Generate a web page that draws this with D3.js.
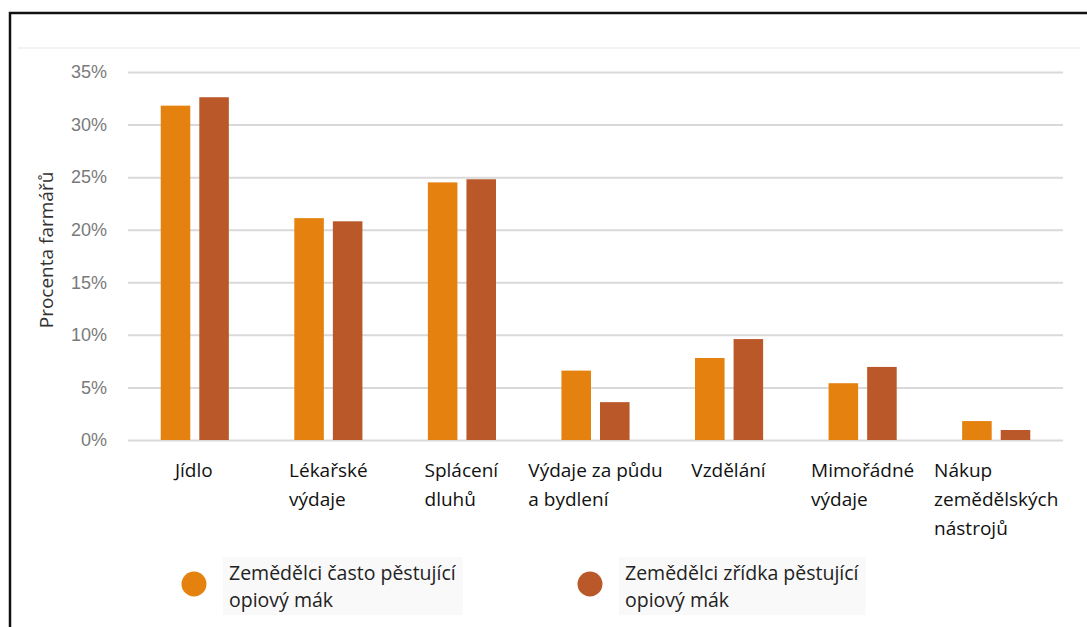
<!DOCTYPE html>
<html>
<head>
<meta charset="utf-8">
<script src="https://cdn.jsdelivr.net/npm/d3@7"></script>
<style>
  body { margin: 0; background: #fff; }
  svg { display: block; font-family: "Open Sans", "Noto Sans", sans-serif; }
</style>
</head>
<body>
<div id="chart-root"></div>
<script>
const categories = [
  ['Jídlo'],
  ['Lékařské', 'výdaje'],
  ['Splácení', 'dluhů'],
  ['Výdaje za půdu', 'a bydlení'],
  ['Vzdělání'],
  ['Mimořádné', 'výdaje'],
  ['Nákup', 'zemědělských', 'nástrojů']
];
const series_names = ['Zemědělci často pěstující opiový mák', 'Zemědělci zřídka pěstující opiový mák'];
const legend_lines = [['Zemědělci často pěstující', 'opiový mák'], ['Zemědělci zřídka pěstující', 'opiový mák']];
const often_values = [31.8, 21.1, 24.5, 6.6, 7.8, 5.4, 1.8];
const rarely_values = [32.6, 20.8, 24.8, 3.6, 9.6, 6.95, 0.95];
const y_ticks = [0, 5, 10, 15, 20, 25, 30, 35];
const colors = ['#e5820f', '#bb5829'];

const width = 1087, height = 627;
const margin = {left: 128, right: 1063, top: 72, bottom: 440};

const svg = d3.select('#chart-root').append('svg')
    .attr('width', width).attr('height', height);

// frame
svg.append('path')
    .attr('d', `M10,${height} L10,13 L${width},13`)
    .attr('fill', 'none').attr('stroke', '#111').attr('stroke-width', 2.5);
svg.append('line')
    .attr('x1', 18).attr('x2', 1080).attr('y1', 48).attr('y2', 48)
    .attr('stroke', '#f3f3f3').attr('stroke-width', 2);

const keys = categories.map(c => c.join(' '));
const x0 = d3.scaleBand().domain(keys).range([margin.left, margin.right])
    .paddingInner(0.49).paddingOuter(0.245);
const x1 = d3.scaleBand().domain(series_names).range([0, x0.bandwidth()]).paddingInner(0.234);
const y = d3.scaleLinear().domain([0, 35]).range([margin.bottom, margin.top]);

// gridlines
const y_axis = d3.axisLeft(y).tickValues(y_ticks).tickSize(-(margin.right - margin.left))
    .tickFormat(d => d + '%').tickPadding(21);
const y_axis_group = svg.append('g').attr('transform', `translate(${margin.left},0)`).call(y_axis);
y_axis_group.select('.domain').remove();
y_axis_group.selectAll('.tick line').attr('stroke', '#d9d9d9').attr('stroke-width', 2);
y_axis_group.selectAll('.tick text').attr('fill', '#7a7a7a').attr('font-size', 18);

svg.append('text')
    .attr('transform', `translate(53,250) rotate(-90)`)
    .attr('text-anchor', 'middle')
    .attr('fill', '#333').attr('font-size', 19)
    .text('Procenta farmářů');

// bars
const rows = keys.map((k, i) => ({key: k, values: [often_values[i], rarely_values[i]]}));
const groups = svg.append('g').selectAll('g').data(rows).join('g')
    .attr('transform', d => `translate(${x0(d.key)},0)`);
groups.selectAll('rect')
    .data(d => d.values.map((v, j) => ({name: series_names[j], value: v, j: j})))
    .join('rect')
    .attr('x', d => x1(d.name))
    .attr('width', x1.bandwidth())
    .attr('y', d => y(d.value))
    .attr('height', d => y(0) - y(d.value))
    .attr('fill', d => colors[d.j]);

// category labels: left-aligned block centred on band
const label_g = svg.append('g');
categories.forEach((lines, i) => {
  const cx = x0(keys[i]) + x0.bandwidth() / 2;
  const t = label_g.append('text').attr('fill', '#111').attr('font-size', 19);
  lines.forEach((ln, j) => {
    t.append('tspan').attr('x', 0).attr('y', 477 + j * 29).text(ln);
  });
  const w = t.node().getBBox().width;
  t.attr('transform', `translate(${cx - w / 2},0)`);
});

// legend
const legend_x = [194, 590];
legend_lines.forEach((lines, i) => {
  const g = svg.append('g').attr('transform', `translate(${legend_x[i]},0)`);
  const t = g.append('text').attr('fill', '#222').attr('font-size', 19.5);
  lines.forEach((ln, j) => {
    t.append('tspan').attr('x', 35).attr('y', 580 + j * 27).text(ln);
  });
  const bb = t.node().getBBox();
  g.insert('rect', 'text')
      .attr('x', bb.x - 6).attr('y', bb.y - 2)
      .attr('width', bb.width + 12).attr('height', bb.height + 4)
      .attr('fill', '#f9f9f9');
  g.append('circle').attr('cx', 0).attr('cy', 584).attr('r', 12.5).attr('fill', colors[i]);
});
</script>
</body>
</html>
